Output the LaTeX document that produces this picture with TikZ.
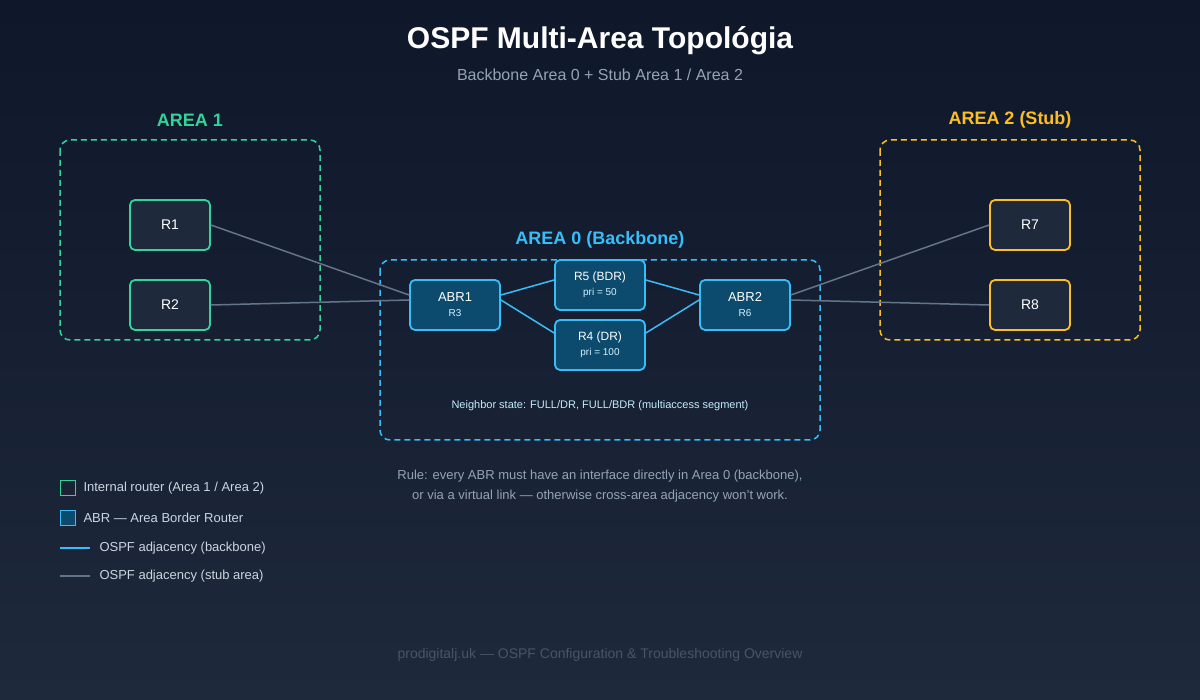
\documentclass[tikz,border=0pt]{standalone}
\usepackage{fontspec}
\setmainfont{Liberation Sans}
\begin{document}
\begin{tikzpicture}[x=1pt,y=-1pt,
 box/.style={draw,line width=1.8pt,rounded corners=5pt,minimum width=80pt,minimum height=50pt,inner sep=0pt,align=center,font=\fontsize{14}{16}\selectfont,text=white},
 gnode/.style={box,draw=grn,fill=nodefill},
 ynode/.style={box,draw=yel,fill=nodefill},
 bnode/.style={box,draw=blu,fill=bfill,minimum width=90pt},
 area/.style={draw,line width=1.5pt,rounded corners=10pt,dash pattern=on 6pt off 4pt},
 gl/.style={draw=lgray,line width=1.5pt},
 bl/.style={draw=blu,line width=1.5pt}]
\definecolor{bgtop}{HTML}{0F172A}\definecolor{bgbot}{HTML}{1E293B}
\definecolor{grn}{HTML}{34D399}\definecolor{blu}{HTML}{38BDF8}\definecolor{yel}{HTML}{FBBF24}
\definecolor{nodefill}{HTML}{1E293B}\definecolor{bfill}{HTML}{0C4A6E}\definecolor{lgray}{HTML}{64748B}
\definecolor{txt}{HTML}{CBD5E1}\definecolor{sgray}{HTML}{94A3B8}\definecolor{foot}{HTML}{475569}
\shade[top color=bgtop,bottom color=bgbot] (0,0) rectangle (1200,700);
\useasboundingbox (0,0) rectangle (1200,700);
\node[font=\fontsize{30}{34}\selectfont\bfseries,text=white] (title) at (600,41) {OSPF Multi-Area Topológia};
\node[font=\fontsize{16}{18}\selectfont,text=sgray] (subt) at (600,75) {Backbone Area 0 + Stub Area 1 / Area 2};
\draw[area,draw=grn] (60,140) rectangle (320,340);
\draw[area,draw=blu] (380,260) rectangle (820,440);
\draw[area,draw=yel] (880,140) rectangle (1140,340);
\node[font=\fontsize{18}{20}\selectfont\bfseries,text=grn] (a1) at (190,120) {AREA 1};
\node[font=\fontsize{18}{20}\selectfont\bfseries,text=blu] (a0) at (600,240) {AREA 0 (Backbone)};
\node[font=\fontsize{18}{20}\selectfont\bfseries,text=yel] (a2) at (1010,120) {AREA 2 (Stub)};
\node[gnode] (R1) at (170,225) {R1};
\node[gnode] (R2) at (170,305) {R2};
\node[ynode] (R7) at (1030,225) {R7};
\node[ynode] (R8) at (1030,305) {R8};
\node[bnode] (ABR1) at (455,305) {\fontsize{13}{15}\selectfont ABR1\\[-1pt]{\fontsize{10}{12}\selectfont\color{white!80!blu}R3}};
\node[bnode] (ABR2) at (745,305) {\fontsize{13}{15}\selectfont ABR2\\[-1pt]{\fontsize{10}{12}\selectfont\color{white!80!blu}R6}};
\node[bnode] (R5) at (600,285) {\fontsize{12}{14}\selectfont R5 (BDR)\\[-1pt]{\fontsize{10}{12}\selectfont\color{white!80!blu}pri = 50}};
\node[bnode] (R4) at (600,345) {\fontsize{12}{14}\selectfont R4 (DR)\\[-1pt]{\fontsize{10}{12}\selectfont\color{white!80!blu}pri = 100}};
\draw[gl] (R1.east) -- ([yshift=10pt]ABR1.west);
\draw[gl] (R2.east) -- ([yshift=5pt]ABR1.west);
\draw[gl] ([yshift=10pt]ABR2.east) -- (R7.west);
\draw[gl] ([yshift=5pt]ABR2.east) -- (R8.west);
\draw[bl] ([yshift=10pt]ABR1.east) -- ([yshift=5pt]R5.west);
\draw[bl] ([yshift=5pt]ABR1.east) -- ([yshift=12pt]R4.west);
\draw[bl] ([yshift=5pt]R5.east) -- ([yshift=10pt]ABR2.west);
\draw[bl] ([yshift=12pt]R4.east) -- ([yshift=5pt]ABR2.west);
\node[font=\fontsize{11}{13}\selectfont,text=white!70!blu] (ns) at (600,406) {Neighbor state: FULL/DR, FULL/BDR (multiaccess segment)};
\node[font=\fontsize{13}{20}\selectfont,text=sgray,align=center] (rule) at (600,486) {Rule: every ABR must have an interface directly in Area 0 (backbone),\\or via a virtual link — otherwise cross-area adjacency won't work.};
\node[draw=grn,line width=1.5pt,minimum size=15pt,inner sep=0pt] (l1) at (68,488) {};
\node[anchor=west,font=\fontsize{13}{15}\selectfont,text=txt] (t1) at (80,488) {Internal router (Area 1 / Area 2)};
\node[draw=blu,fill=bfill,line width=1.5pt,minimum size=15pt,inner sep=0pt] (l2) at (68,518) {};
\node[anchor=west,font=\fontsize{13}{15}\selectfont,text=txt] (t2) at (80,518) {ABR — Area Border Router};
\coordinate (l3a) at (60,548); \coordinate (l3b) at (90,548);
\draw[bl] (l3a) -- (l3b);
\node[anchor=west,font=\fontsize{13}{15}\selectfont,text=txt] (t3) at (96,548) {OSPF adjacency (backbone)};
\coordinate (l4a) at (60,576); \coordinate (l4b) at (90,576);
\draw[gl] (l4a) -- (l4b);
\node[anchor=west,font=\fontsize{13}{15}\selectfont,text=txt] (t4) at (96,576) {OSPF adjacency (stub area)};
\node[font=\fontsize{14}{16}\selectfont,text=foot] (ft) at (600,655) {prodigitalj.uk — OSPF Configuration \& Troubleshooting Overview};
\end{tikzpicture}
\end{document}
